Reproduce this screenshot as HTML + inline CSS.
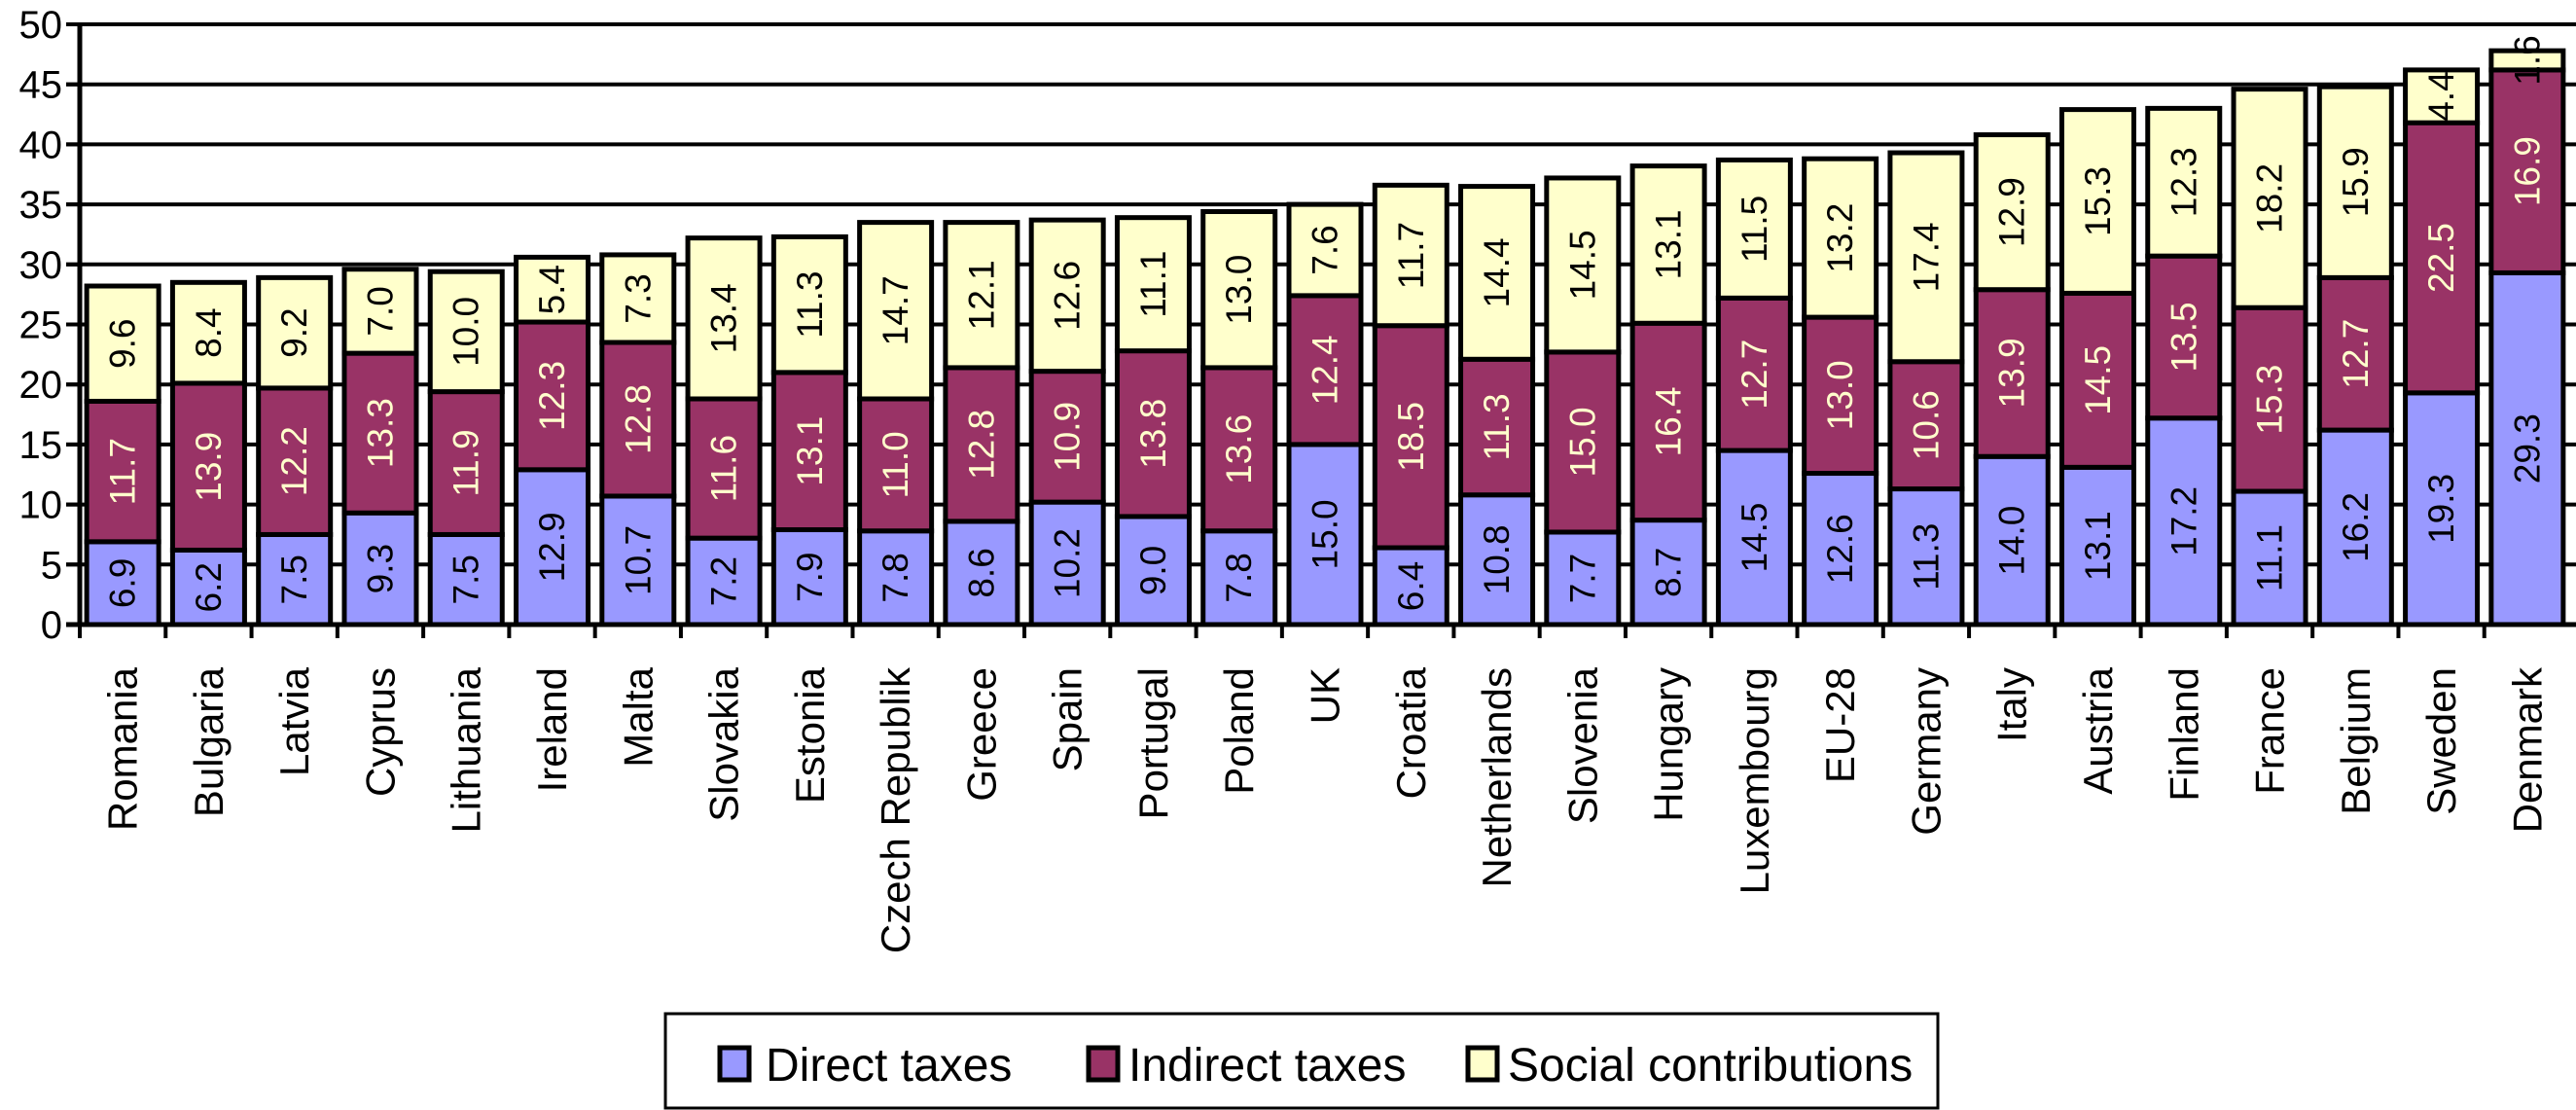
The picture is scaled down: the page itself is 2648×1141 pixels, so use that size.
<!DOCTYPE html>
<html><head><meta charset="utf-8"><style>
html,body{margin:0;padding:0;background:#fff;}
svg{display:block;font-family:"Liberation Sans",Arial,sans-serif;}
</style></head><body>
<svg id="chart" width="2648" height="1141" viewBox="0 0 2648 1141" xmlns="http://www.w3.org/2000/svg">
<g id="grid"></g>
<g id="bars"></g>
<g id="axes"></g>
<g id="legend">
  <rect x="684" y="1042" width="1308" height="97" fill="#fff" stroke="#000" stroke-width="3"/>
  <g>
    <rect x="740" y="1077" width="30" height="33" fill="#9999FF" stroke="#000" stroke-width="5"/>
    <text x="787" y="1111" font-size="48">Direct taxes</text>
  </g>
  <g>
    <rect x="1119" y="1077" width="30" height="33" fill="#993366" stroke="#000" stroke-width="5"/>
    <text x="1160" y="1111" font-size="48">Indirect taxes</text>
  </g>
  <g>
    <rect x="1509" y="1077" width="30" height="33" fill="#FFFFCC" stroke="#000" stroke-width="5"/>
    <text x="1550" y="1111" font-size="48">Social contributions</text>
  </g>
</g>
</svg>
<script>
const categories = ["Romania","Bulgaria","Latvia","Cyprus","Lithuania","Ireland","Malta","Slovakia","Estonia","Czech Republik","Greece","Spain","Portugal","Poland","UK","Croatia","Netherlands","Slovenia","Hungary","Luxembourg","EU-28","Germany","Italy","Austria","Finland","France","Belgium","Sweden","Denmark"];
const directTaxes = [6.9,6.2,7.5,9.3,7.5,12.9,10.7,7.2,7.9,7.8,8.6,10.2,9.0,7.8,15.0,6.4,10.8,7.7,8.7,14.5,12.6,11.3,14.0,13.1,17.2,11.1,16.2,19.3,29.3];
const indirectTaxes = [11.7,13.9,12.2,13.3,11.9,12.3,12.8,11.6,13.1,11.0,12.8,10.9,13.8,13.6,12.4,18.5,11.3,15.0,16.4,12.7,13.0,10.6,13.9,14.5,13.5,15.3,12.7,22.5,16.9];
const socialContrib = [9.6,8.4,9.2,7.0,10.0,5.4,7.3,13.4,11.3,14.7,12.1,12.6,11.1,13.0,7.6,11.7,14.4,14.5,13.1,11.5,13.2,17.4,12.9,15.3,12.3,18.2,15.9,4.4,1.6];
const yTicks = [0,5,10,15,20,25,30,35,40,45,50];

const NS="http://www.w3.org/2000/svg";
const X0=82, X1=2642, GRID_END=2648, Y0=642, YTOP=25, YMAX=50;
const band=(X1-X0)/categories.length;
const barW=74;
function y(v){return Y0-(v/YMAX)*(Y0-YTOP);}
function xc(i){return X0+band*i+band/2;}
function mk(tag,attrs,parent){const e=document.createElementNS(NS,tag);for(const k in attrs)e.setAttribute(k,attrs[k]);parent.appendChild(e);return e;}

const grid=document.getElementById('grid'), bars=document.getElementById('bars'), axes=document.getElementById('axes');
yTicks.forEach(t=>{
  if(t>0){const l=mk('line',{x1:X0-14,x2:GRID_END,y1:y(t),y2:y(t),stroke:'#000','stroke-width':4},grid);
  
  }
  const tk=mk('line',{x1:X0-14,x2:X0,y1:y(t),y2:y(t),stroke:'#000','stroke-width':4},axes);
  
  
  const tx=mk('text',{x:X0-18,y:y(t)+14,'text-anchor':'end','font-size':40},axes);
  
  
  tx.textContent=t;
});
const series=[[directTaxes,'#9999FF','#000','direct'],[indirectTaxes,'#993366','#FFFFCC','indirect'],[socialContrib,'#FFFFCC','#000','social']];
categories.forEach((c,i)=>{
  let base=0;
  const g=mk('g',{},bars);
  
  
  series.forEach(s=>{
    const v=s[0][i], yt=y(base+v), yb=y(base);
    const r=mk('rect',{x:xc(i)-barW/2,y:yt,width:barW,height:yb-yt,fill:s[1],stroke:'#000','stroke-width':5},g);
    
    
    const cy=(yt+yb)/2, cx=xc(i);
    const t=mk('text',{x:cx,y:cy,transform:'rotate(-90 '+cx+' '+cy+')','text-anchor':'middle','dominant-baseline':'central','font-size':37,fill:s[2]},g);
    
    
    t.textContent=v.toFixed(1);
    base+=v;
  });
  const cx=xc(i), ly=686;
  const lab=mk('text',{x:cx,y:ly,transform:'rotate(-90 '+cx+' '+ly+')','text-anchor':'end','dominant-baseline':'central','font-size':42},axes);
  
  
  lab.textContent=c;
  const tk=mk('line',{x1:X0+band*i,x2:X0+band*i,y1:Y0,y2:Y0+14,stroke:'#000','stroke-width':4},axes);
  
  
});
const ya=mk('line',{x1:X0,x2:X0,y1:YTOP,y2:Y0,stroke:'#000','stroke-width':5},axes);


const xa=mk('line',{x1:X0-14,x2:GRID_END,y1:Y0,y2:Y0,stroke:'#000','stroke-width':5},axes);


</script>
</body></html>
